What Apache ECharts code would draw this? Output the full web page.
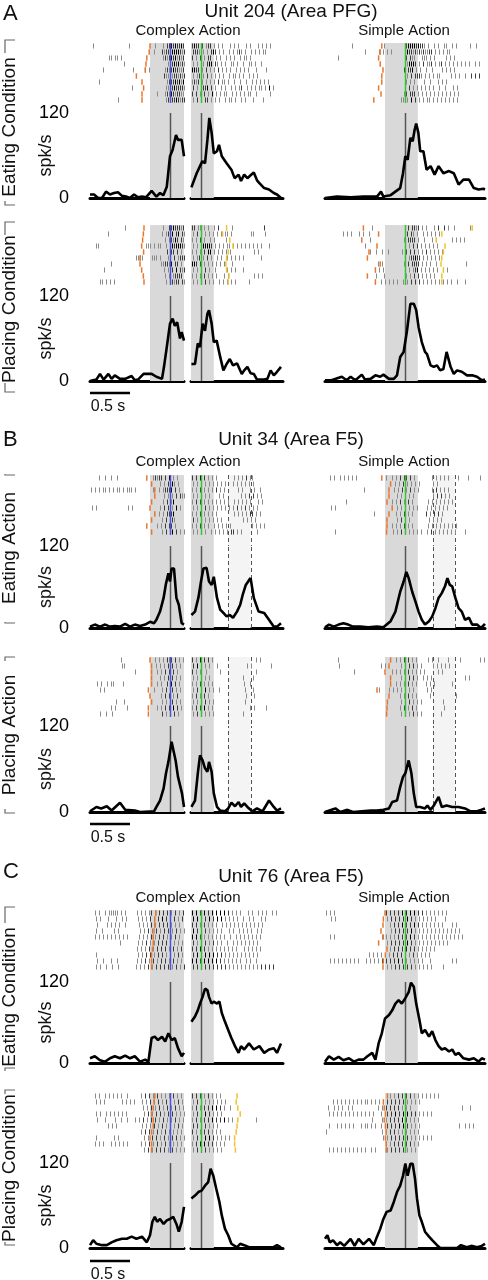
<!DOCTYPE html>
<html><head><meta charset="utf-8">
<script src="https://cdn.jsdelivr.net/npm/echarts@6/dist/echarts.min.js"></script>
<style>html,body{margin:0;padding:0;background:#fff}#c{width:488px;height:1280px}</style>
</head><body><div id="c"></div>
<script>
// ---------------- DATA ----------------
const panelLetters = ['A', 'B', 'C'];
const panelTitles = ['Unit 204 (Area PFG)', 'Unit 34 (Area F5)', 'Unit 76 (Area F5)'];
const segTitles = ['Complex Action', 'Simple Action'];
const rowLabels = ['Eating Condition', 'Placing Condition', 'Eating Action', 'Placing Action', 'Eating Condition', 'Placing Condition'];
const yTicks = [0, 120];
const yUnit = 'spk/s';
const scaleLabel = '0.5 s';
const scaleLen = 0.5;

// PSTH curves [time (s), rate (spk/s)]
const psthA_eat_CL = [[-1,5],[-0.95,5],[-0.9,0],[-0.85,0],[-0.8,9],[-0.75,5],[-0.7,7],[-0.65,8],[-0.6,3],[-0.55,2],[-0.5,0],[-0.45,5],[-0.4,1],[-0.35,2],[-0.3,1],[-0.23,10],[-0.17,2],[-0.125,7],[-0.083,4],[-0.04,16],[0,59],[0.033,68],[0.075,89],[0.1,82],[0.125,80],[0.146,82],[0.175,59]];
const psthA_eat_CR = [[-0.12,15],[-0.054,35],[-0.0125,45],[0.017,52],[0.05,49],[0.08,82],[0.104,113],[0.133,92],[0.16,63],[0.2,66],[0.225,75],[0.26,59],[0.32,49],[0.38,40],[0.42,28],[0.47,33],[0.5,24],[0.54,33],[0.58,28],[0.62,32],[0.66,36],[0.7,25],[0.73,21],[0.79,14],[0.85,12],[0.91,7],[0.95,5],[1.0,0]];
const psthA_eat_S = [[-1,0],[-0.85,2],[-0.68,1],[-0.52,2],[-0.35,2],[-0.3,9],[-0.27,2],[-0.18,4],[-0.12,9],[-0.06,14],[-0.025,35],[0.004,59],[0.033,54],[0.067,85],[0.096,80],[0.12,96],[0.14,105],[0.167,92],[0.19,66],[0.23,66],[0.27,40],[0.32,45],[0.37,33],[0.42,45],[0.48,35],[0.55,38],[0.61,35],[0.67,19],[0.73,26],[0.8,26],[0.86,14],[0.92,12],[0.98,13],[1,12]];
const psthA_pl_CL = [[-1,0],[-0.92,2],[-0.875,10],[-0.83,2],[-0.77,10],[-0.73,3],[-0.69,8],[-0.625,3],[-0.56,3],[-0.48,7],[-0.44,1],[-0.4,2],[-0.33,10],[-0.23,10],[-0.17,6],[-0.1,3],[-0.075,20],[-0.04,48],[0,81],[0.033,88],[0.06,78],[0.09,83],[0.125,60],[0.146,69],[0.175,57]];
const psthA_pl_CR = [[-0.12,24],[-0.075,24],[-0.04,53],[-0.0125,48],[0.02,81],[0.05,71],[0.08,95],[0.1,100],[0.133,81],[0.16,55],[0.196,57],[0.24,34],[0.28,15],[0.32,24],[0.36,31],[0.4,22],[0.45,25],[0.51,10],[0.54,15],[0.58,20],[0.62,11],[0.66,10],[0.7,2],[0.79,2],[0.83,3],[0.87,15],[0.91,8],[0.95,13],[1.0,20]];
const psthA_pl_S = [[-1,1],[-0.92,1],[-0.79,6],[-0.73,1],[-0.68,6],[-0.62,1],[-0.54,9],[-0.5,2],[-0.43,3],[-0.37,8],[-0.31,6],[-0.27,9],[-0.2,3],[-0.14,3],[-0.1,8],[-0.06,34],[-0.017,41],[0.025,71],[0.067,109],[0.11,109],[0.14,100],[0.17,76],[0.21,55],[0.25,41],[0.275,38],[0.32,22],[0.36,20],[0.4,22],[0.44,15],[0.48,17],[0.52,41],[0.57,20],[0.61,10],[0.65,15],[0.71,13],[0.775,8],[0.84,8],[0.9,6],[0.96,1],[1,2]];
const psthB_eat_CL = [[-1,2],[-0.94,5],[-0.875,2],[-0.81,5],[-0.75,2],[-0.69,3],[-0.625,2],[-0.56,6],[-0.5,2],[-0.44,5],[-0.375,3],[-0.31,5],[-0.25,9],[-0.2,7],[-0.17,12],[-0.125,24],[-0.08,44],[-0.05,65],[-0.02,80],[0,68],[0.02,87],[0.05,87],[0.08,44],[0.11,34],[0.146,7],[0.175,5]];
const psthB_eat_CR = [[-0.12,19],[-0.075,24],[-0.033,44],[0,68],[0.03,87],[0.07,88],[0.1,68],[0.133,63],[0.16,75],[0.2,44],[0.24,27],[0.28,22],[0.32,17],[0.36,19],[0.4,15],[0.45,24],[0.49,34],[0.52,48],[0.56,63],[0.6,70],[0.62,73],[0.66,44],[0.72,24],[0.79,22],[0.85,12],[0.91,2],[0.95,2],[1.0,7]];
const psthB_eat_S = [[-1,1],[-0.95,5],[-0.89,2],[-0.83,5],[-0.77,7],[-0.71,5],[-0.65,2],[-0.56,2],[-0.46,1],[-0.35,2],[-0.27,1],[-0.18,10],[-0.12,24],[-0.06,53],[-0.017,68],[0.017,82],[0.046,73],[0.09,53],[0.13,39],[0.17,24],[0.21,12],[0.25,5],[0.3,10],[0.34,17],[0.38,29],[0.42,44],[0.46,51],[0.5,61],[0.53,73],[0.56,63],[0.59,61],[0.63,44],[0.67,29],[0.71,24],[0.75,12],[0.8,15],[0.84,5],[0.9,5],[0.95,0],[1,6]];
const psthB_pl_CL = [[-1,1],[-0.92,7],[-0.86,5],[-0.79,8],[-0.73,2],[-0.625,13],[-0.56,3],[-0.44,2],[-0.375,0],[-0.2,1],[-0.17,7],[-0.125,16],[-0.08,33],[-0.05,54],[-0.02,70],[0,68],[0.02,98],[0.04,98],[0.07,72],[0.1,49],[0.125,51],[0.15,26],[0.175,7]];
const psthB_pl_CR = [[-0.12,7],[-0.075,16],[-0.04,54],[-0.0125,79],[0.02,72],[0.05,61],[0.08,56],[0.1,70],[0.133,56],[0.16,26],[0.2,7],[0.24,2],[0.3,1],[0.34,5],[0.38,13],[0.425,8],[0.47,14],[0.5,7],[0.54,12],[0.58,7],[0.64,1],[0.7,5],[0.77,1],[0.85,16],[0.91,7],[0.95,2],[1.0,5]];
const psthB_pl_S = [[-1,0],[-0.87,5],[-0.81,0],[-0.72,3],[-0.65,0],[-0.43,2],[-0.35,2],[-0.27,3],[-0.2,5],[-0.16,14],[-0.1,16],[-0.06,35],[-0.025,49],[0.004,54],[0.046,72],[0.08,54],[0.11,26],[0.14,7],[0.19,7],[0.25,5],[0.28,9],[0.32,3],[0.36,9],[0.42,21],[0.46,7],[0.52,9],[0.59,7],[0.67,7],[0.75,5],[0.82,1],[0.9,1],[0.95,3],[1,5]];
const psthC_eat_CL = [[-1,7],[-0.94,10],[-0.875,4],[-0.81,2],[-0.75,7],[-0.69,10],[-0.625,7],[-0.56,11],[-0.5,7],[-0.44,10],[-0.375,2],[-0.31,5],[-0.27,2],[-0.23,37],[-0.19,39],[-0.15,34],[-0.1,39],[-0.06,32],[-0.02,44],[0.02,34],[0.06,37],[0.1,22],[0.146,10],[0.175,15]];
const psthC_eat_CR = [[-0.12,61],[-0.075,69],[-0.04,78],[-0.0125,88],[0.02,98],[0.05,110],[0.08,108],[0.1,98],[0.133,88],[0.16,91],[0.2,88],[0.23,91],[0.26,74],[0.3,61],[0.34,49],[0.38,37],[0.425,25],[0.47,15],[0.5,25],[0.54,20],[0.6,29],[0.66,20],[0.73,25],[0.79,15],[0.85,20],[0.91,22],[0.95,15],[1.0,29]];
const psthC_eat_S = [[-1,2],[-0.95,10],[-0.89,5],[-0.83,9],[-0.77,4],[-0.7,7],[-0.64,2],[-0.58,5],[-0.52,5],[-0.47,10],[-0.41,15],[-0.37,5],[-0.33,29],[-0.29,44],[-0.25,66],[-0.2,71],[-0.16,78],[-0.12,88],[-0.08,93],[-0.04,88],[0.004,96],[0.046,105],[0.075,119],[0.11,113],[0.14,88],[0.18,64],[0.21,44],[0.25,49],[0.3,39],[0.34,47],[0.38,34],[0.42,25],[0.46,20],[0.5,22],[0.55,17],[0.59,20],[0.63,12],[0.67,15],[0.73,7],[0.8,5],[0.86,7],[0.92,2],[0.96,7],[1,5]];
const psthC_pl_CL = [[-1,4],[-0.96,11],[-0.92,6],[-0.85,4],[-0.79,4],[-0.73,8],[-0.67,11],[-0.6,13],[-0.54,13],[-0.48,16],[-0.42,13],[-0.35,16],[-0.29,8],[-0.25,18],[-0.22,37],[-0.19,44],[-0.16,37],[-0.125,41],[-0.08,34],[-0.04,39],[0,41],[0.04,44],[0.08,34],[0.11,23],[0.146,37],[0.175,58]];
const psthC_pl_CR = [[-0.12,70],[-0.075,74],[-0.033,79],[0.008,81],[0.05,88],[0.09,93],[0.12,112],[0.154,102],[0.19,84],[0.23,65],[0.26,46],[0.3,27],[0.34,18],[0.38,6],[0.45,1],[0.49,6],[0.54,4],[0.6,1],[0.7,1],[0.8,1],[0.9,1],[0.95,4],[1.0,1]];
const psthC_pl_S = [[-1,13],[-0.97,18],[-0.94,8],[-0.9,11],[-0.85,4],[-0.81,8],[-0.76,3],[-0.68,13],[-0.63,3],[-0.58,13],[-0.52,5],[-0.45,13],[-0.39,4],[-0.35,16],[-0.31,27],[-0.27,41],[-0.23,51],[-0.18,53],[-0.14,65],[-0.1,79],[-0.06,88],[-0.025,102],[0.004,119],[0.033,102],[0.067,119],[0.096,119],[0.125,98],[0.15,70],[0.18,46],[0.21,37],[0.25,23],[0.3,16],[0.34,11],[0.4,4],[0.44,0],[0.65,0],[0.7,4],[0.77,1],[0.84,3],[0.9,1],[0.96,3],[1,6]];

// Rasters: one string per trial, one character per 25 ms bin from the segment start
// ('.' no spike, 1 light, 2 dark, 3 black; '|' only groups 10 bins)
const rasA_eat_CL = [
".1........|.........1|..........|..1...1.22|3232232",
"..........|..........|..........|.1...21222|3333212",
".........1|1.11.1....|..........|......1212|3231212",
"..........|......1...|..........|........12|2323121",
"......1...|..........|.1.....1.1|.......121|2322112",
"..........|..........|..........|......2112|1221212",
"....1.....|..........|..........|........12|2232313",
"..........|..........|1.........|.......112|2322221",
"..........|..........|..........|...1...121|3212211",
"..........|...1......|..........|.......122|2232122"];
const rasA_eat_CR = [
"2322.2.122|.1.1.1...1|.1.1...1.1|...1.1.1.1|......",
"2221.1.1.2|32.1.1..1.|1.121.1..1|.1.1.11...|......",
"2.1.2.1.22|..1.1..1.1|.1..1.11.1|..........|......",
"1.1..1.233|.21.1.1..1|1.1..1..11|.1..1.....|......",
"3322.1.2.1|.1.2.1.1.1|..1.1.1.1.|..1....1..|......",
"1.12.1.2.1|.1.1.1..1.|11.1.1..1.|1.1.......|......",
"1212.1.1.1|.1.2.11.1.|.1..1..1..|1.1.1.1.1.|......",
"2.1.2223.2|.1..1.1..1|.1.12..1.1|.1.11.1.3.|1.....",
"2.2.1.2.1.|3.1.1.11..|1.1.1.1.11|..1......1|......",
"1.2.1.22.1|.1.1..1.11|.1..1.1...|1....1....|......"];
const rasA_eat_S = [
"..........|...1......|.........1|..........|2333323221|.1..1.1..1|1..1.1....|..1..1....",
"..........|.........1|......1.1.|1.1.......|3221212121|122.1.1.1.|11........|..........",
"......1...|..........|..........|..........|2.211...11|1.1.1.....|1.1.1.....|..........",
"..........|..........|..........|..........|13332.1.2.|112.1.12.1|.1.1.1.1.1|.1..1.1...",
"..........|..........|..........|.........2|.223.1.1..|1..1....1.|1.1.1.....|..........",
"..........|..........|..........|..........|1.2.2221.1|.1.1.11...|..1.1.1..1|..2.2.2...",
"..........|..........|..........|..........|1.1.1....1|..1...1.1.|1.........|..........",
"..........|..........|..........|.........1|.2.1.1.1.1|.1.1..1..1|...1.1....|..........",
"..........|..........|..........|.........1|2.222.1.1.|1.1.1.1.1.|1.1.1.1...|..........",
"..........|..........|..........|.......11.|1.3.2.1.1.|11.1.1.1.1|.1.1.1....|.........."];
const rasA_pl_CL = [
"..........|.......1..|..........|......1..2|2322212",
"........1.|..........|..........|.....1.122|3.23.21",
"..........|..........|..........|.......1.1|2132.21",
"..11......|..........|.......111|.1.11..1.2|3233321",
"..........|..........|..........|........2.|22.2.1.",
"..........|..........|..1111....|111.1...12|.2.1222",
"..........|1.........|..........|.....11221|3.22.1.",
"......1...|..........|..........|......1.12|2.3.212",
"..........|..........|..........|.......1.1|.12222.",
"....11.1.1|.1........|..........|.......1.1|2122.21"];
const rasA_pl_CR = [
"22.11.1.1.|.1.2...1..|1.........|......2...|......",
"1.2.1.1.1.|1.1.1.11.1|.........1|1.....1...|......",
"1.1.2.1..1|.1.....1..|..........|..........|......",
"1.1.233332|.1.1.1.11.|1.1.1.1.1.|1.1.1...1.|......",
"1.1.1.2.33|.1.1.1.1.1|..........|.1.1......|......",
"1.12.1.2.1|..1.1..1.1|.1.1.1....|....1.....|......",
"332.2.1.1.|1.1.1.1...|1.........|..........|......",
"1.1.2.2.1.|.1.....1.1|.1...1....|..........|......",
"1.1.1.2.1.|1.1...1.1.|..........|.1.1.1....|......",
"1.1.1.2.1.|1..1.1.1.1|.1......1.|..........|......"];
const rasA_pl_S = [
"..........|..........|...1......|..........|.2.2212.1.|1...1.2..2|.1..1.....|..1.......",
"........1.|1.1...1.1.|.1........|..........|2.21.1..1.|1.1.1.1...|..........|..........",
"..........|..........|..1.......|.........1|.2222.1..1|...1.1....|...1.1.1.1|..........",
"..........|.........1|..........|..........|.1.2.2.1.1|.1.1.1....|..........|..........",
"..........|..........|..1..1..1.|.1......1.|2.2.2.1.1.|2.1.1.1.1.|..........|..........",
"..........|..........|..........|.........1|.122322.1.|1.1.1.1...|..........|..........",
"..........|..........|......1.1.|.........1|.2.2222.1.|1.1..1....|..........|1.........",
"..........|..........|....1.1.1.|.........1|.1.123.1.1|.1.1.1..1.|1.........|..........",
"..........|..........|.....1...1|..........|1.1.2.2.1.|1.1.1.....|..........|..........",
"..........|..........|....1..1.1|.1.1.1..1.|1.2.2.2.1.|1.1.1.1.1.|1.1..1...1|.........."];
const rasB_eat_CL = [
"....1..1..|1..1......|..........|.12122.2.3|.1.1...",
"..........|..........|..........|....1.1.21|31.1...",
"1.1.1.11.1|.1.11.1.11|1.1.......|.1..1.1222|3.2.1..",
"..........|..........|..........|......1.12|1.2.211",
"..........|..........|..........|......1.2.|13.....",
"1.1.......|........1.|1.........|....1.2.21|1.3.1..",
"..........|..........|..........|....1.1.22|23.....",
"..........|..........|..........|.....1.2.2|21.....",
"..........|..........|..........|...1.1.2.2|2.1....",
"..........|..........|..........|.....1.2.1|3.2.1.1"];
const rasB_eat_CR = [
"2.2.3.2.1.|1.1.......|.1.1.1.2.1|1.........|......",
"1.1.2.1.1.|1.1.1.1...|1.1.1.1.1.|1.........|......",
"1.1.2.1.1.|1.2.1.1...|...1.1...1|.1..1.....|......",
"1.1.2.1.1.|...1.1....|....1.1.2.|2.1.1.....|......",
"1.2.2.1.1.|1.1.1.1.1.|.1.1.1.1.1|...1.1....|......",
"1.1.2.2.1.|1.1.1.1.1.|1.2.1.2.1.|1.1.......|......",
"1.1.2.1.1.|1.1.......|.1.1.1.1.2|2.1.1.....|......",
"2.1.2.1.1.|1.1.1.....|.....1.1.1|.1........|......",
"1.1.2.1.1.|.1.1.1.1.1|..........|1.1.1.1...|......",
"1.1.2.1..1|.1.1.1.1.2|2.1.1.....|..1.......|......"];
const rasB_eat_S = [
"..1.1..1.1|.1.1.1....|..........|1..1.1.2.2|2.2.1.....|...1.1.1.1|.1....1...|.1.....1..",
"..........|..........|..........|....1.1.2.|1.1.1.1...|...1.1....|..........|..........",
"..........|.........1|..........|....1.1.2.|1.2.1.1...|...1.2.1.1|.1........|..........",
"..........|..........|..........|.....1.1.1|.1.1......|...1.2.2.1|.1........|..........",
"..........|1.........|..........|...1.1.2.1|.2.1......|.1.1.1.1.1|.1.1......|..........",
"..1.1.....|..........|..........|.....1.1.2|.1.1.1....|1.1.1.1.1.|1.........|..........",
"..........|..........|....1.....|.....1.1.2|.1.1......|2.1.2.2.1.|..........|..........",
"..........|..........|..........|.....1.2.1|.1........|.1.1.1.1..|..........|..........",
"..........|..........|..........|...1.1.1.2|.1.1......|.1.1.1.1.1|.1.1.1....|..........",
"....1.....|..........|..........|...1.1.2.1|.1.1.1.1..|1.2.1.1.1.|1.1.1....1|.........."];
const rasB_pl_CL = [
"..........|.....1....|..........|..1.1.1.21|2.2.1.1",
"..........|.....11...|..........|..1.1.1.2.|2.1.1..",
"..........|..........|..1.......|...1.1.2.2|.2.1...",
"..........|..........|..........|....1.1.22|2.1.1..",
"...1.1..1.|11....1...|..........|...1.1..2.|3.2.1..",
"....1.1...|..........|..........|.1...1.2.1|2.1.1..",
"..........|..........|..........|.....1.2.2|.1.2...",
"..........|..1...1...|..........|.....1.1.2|2.1.1..",
"..........|1.1.....1.|..........|...1.1.2.2|.3.2.1.",
"....1..1..|1.........|..........|.....2.1.2|.2.1..."];
const rasB_pl_CR = [
"2.1.3.2.2.|1.........|..........|..1.1.....|......",
"2.3.2.1.1.|..1.......|.......1.1|.........1|......",
"2.1.1..1..|....1.....|..........|..1.......|......",
"1.1.2.1.1.|..........|.....1....|1.........|......",
"1.1.2.1.1.|1.........|......1..1|..........|......",
"1.2.1.3.1.|1..1......|......1...|1.........|......",
"1.2.1.2.1.|..........|.......1..|.1........|......",
"1.1.1.2.1.|1.........|......1...|..........|......",
"1.2.2.3.1.|1.........|.........1|.1.....1..|......",
"1.2.2.1.1.|1.........|.....1....|..........|......"];
const rasB_pl_S = [
"......1...|..........|..........|.....1.1.2|.2.1.1....|.1.1..1...|.1.....1..|.......1.1",
"......1...|..........|.......1.1|.......1.1|.2.2.1.1..|...1.1.1.1|.1........|..........",
"..........|....1.....|..........|...1.1.1.1|.2.1.1.1.1|......1.1.|..........|..........",
"..........|..........|..........|.......1.1|.2.2.1..1.|1.1.......|.........1|.1........",
"..........|..........|..........|..1..1.1.1|.2.1.1....|1.1.1.....|...1......|..........",
"..........|..........|......1...|.1.1.1.1.2|.1.1......|1.1.......|..........|..........",
"..........|..........|..........|.......1.1|.2.1.1....|..1.......|.....1....|..........",
"..........|..........|..........|.......1.1|.2.1.1.1..|........1.|..........|..........",
"..........|..........|..........|.......1.2|.1.2.1....|.........1|..........|..........",
"..........|..........|..........|.......1.1|.1.2.1.1..|.......1..|..........|.........."];
const rasC_eat_CL = [
"..1.1..1.1|1111.1.1..|...1.1.1.1|2.1.2.2.2.|1.2.1.2",
"..1.1...1.|..1..1.1..|...1.1.1.2|.1.2.3.2.1|.2.1.2.",
"...1....1.|1.1.1..1..|....1.1.1.|2.1.2.2.2.|1.1.1..",
"..1..1....|.1.1......|....1.1.2.|1.2.1.2.2.|1.2.1.1",
"..1.1.1.1.|1.1.1.1.1.|....1.1.1.|2.1.2.2.1.|1.2.1..",
"..........|....1.....|...1.1.2.1|.1.2.2.2.1|.1.1.1.",
"..........|..........|...1.1.1.2|.1.2.2.2.1|.2.1.2.",
"..1.......|..........|...1.1.2.2|.1.2.2.1.2|.1.2.1.",
"...1..1...|1..1......|...1.1.2.1|.2.1.2.2.1|.2.1.1.",
"..1.1..1..|1..1......|..1.1.1.2.|1.2.2.2.2.|1.2.1.2"];
const rasC_eat_CR = [
"3.3.2.3.2.|3.3.3.3.2.|1.1.1...1.|1..1.1.1..|1.1...",
"3.3.3.2.3.|2.3.3.1.1.|1.1..1..1.|1...1.1...|......",
"2.2.1.2.1.|1.1..1.1.1|.1.1.1.1.1|.1.1.1....|......",
"3.2.3.2.1.|1.1.1...1.|1..1.1.1.1|..1.1.....|......",
"3.3.2.1.1.|1.1.1.1..1|..1.1.1.1.|1.1.1.....|......",
"2.1.2.2.1.|2.1.1..1..|1.1.1.1.1.|1.1.......|......",
"2.2.3.2.1.|1.1.1.1.1.|1.1...1.1.|1.1.1.....|......",
"2.3.2.3.3.|3.2.2.1.1.|1.1.1.1.1.|1.1.......|......",
"3.3.2.3.3.|3.3.2.1.1.|1.1.1..1.1|..1.......|......",
"2.2.2.2.2.|2.2.2.2.1.|1.1.1.1.1.|1.1.2.2.2.|2....."];
const rasC_eat_S = [
"1.1.1.....|..........|..........|2.2.2.2.3.|3.3.3.2.2.|1.1.1.1.1.|1.........|..........",
"..1.1.....|..........|..........|1.2.2.2.2.|3.2.1.1.1.|1.1.1....1|..........|..........",
"..........|..........|..........|..1.2.2.3.|2.2.3.2.1.|1.1.1.1.1.|...1.1....|..........",
"..........|..........|..........|..1.2.2.2.|2.3.1.1.1.|1.1.1.1.1.|1.1.1.1...|..........",
"..1.1.....|..........|........1.|1.1.1.2.2.|2.3.2.1.1.|1.1.1.1.1.|1.1.1.1.1.|..........",
"..........|..........|..........|1.2.2.2.2.|3.2.1.1.1.|1.1.1.1.1.|1.........|..........",
"..........|..........|..........|..1.2.2.2.|3.2.2.1.1.|1.1.1.....|..........|..........",
"..........|..........|.1.1.1.1..|.1.2.2.2.2|.1.2.1.1.1|.1........|..........|..........",
"..1.1.1.1.|1.1.1.1...|1.1.1.1.2.|2.2.2.3.2.|1.1.1.1.1.|..1.......|...1.1....|..........",
"..........|..........|..........|1.1.2.2.2.|2.2.1.1.1.|1.1.....1.|..........|.........."];
const rasC_pl_CL = [
"..1.1..1.1|.1.1.1..1.|.....1.2.2|.1.2.1.1.1|.2.1.1.",
"..1.1.1...|.....1.1.1|.1...1.1.2|.1.2.1.2.1|.1.2.1.",
"..........|..........|......1.1.|2.1.2.1.2.|1.2.1.1",
"..1.1..1.1|.1.1.1.1..|......1.2.|1.2.2.1.2.|2.1.1.1",
"...1...1..|..1..1..1.|..1.1.2.1.|2.2.1.2.1.|1.2.1.1",
"........1.|1.1.......|.....1.1.1|.2.1.2.1.2|.1.2.1.",
"..........|..........|.....1.2.2|.1.2.1.2.1|.1.1.1.",
"..1.......|.1.1......|......1.1.|2.2.1.2.1.|2.2.1.1",
"..1.1.1...|1.1.1.1.1.|.....1.1.2|.1.2.1.2.1|.1.1.1.",
"..........|..........|......1.2.|1.2.2.2.1.|2.1.1.1"];
const rasC_pl_CR = [
"2.2.2.1.2.|1.1.1.....|..........|..........|......",
"1.2.2.1.1.|1.1.1.1...|..........|..........|......",
"1.2.1.2.2.|3.3.2.1..1|..........|..........|......",
"1.2.3.3.2.|1.1.1.....|..........|..........|......",
"1.2.1.2.2.|3.2.2.3.1.|1.........|..1.......|......",
"2.2.2.2.1.|1.1.......|..........|..........|......",
"2.1.1.2.2.|1.1.1.....|..........|..........|......",
"1.2.2.3.3.|2.1.1.1.1.|..........|..........|......",
"1.2.3.3.2.|2.1.1.1...|..........|..........|......",
"1.2.2.2.1.|1.1.1.....|..........|..........|......"];
const rasC_pl_S = [
"..........|..........|..........|..1.1.2.2.|2.2.1.1.1.|1.1.1.1...|..........|..........",
"...1.1.1.1|.1.1.1.1.1|1.1.1.1.1.|2.2.2.2.2.|1.1.1.1...|..........|..........|..........",
".1..1.1.1.|.1.1......|......1.1.|2.2.2.2.1.|1.1.......|..........|........1.|..1.......",
".1.1.1.1.1|.1.1.1.1.1|.1.1...1.1|2.2.3.2.3.|3.2.2.1.1.|1.1.......|..........|..........",
"..........|..........|...1....1.|1.2.2.2.3.|2.1.1.1...|..........|..........|..........",
".1...1.1.1|.1.1...1.1|1.1.1..1.1|2.2.2.3.3.|2.1.1.1...|..........|......1..1|.1.1......",
"1.........|..........|........1.|1.2.2.1.1.|1.1.1.1...|..........|..........|..........",
"..........|..........|........1.|1.2.2.2.2.|2.1.1.1.1.|1.1.......|..........|..........",
"..........|..........|..........|1.1.2.2.2.|2.2.1.1...|..........|..........|..........",
".1.1.1.1.1|.1.1.1.1.1|..1.1.....|1.2.2.2.2.|1.1.1.....|..........|..........|.........."];

// Behavioural event markers per trial (s)
const orgA_eat_CL = [-0.25,-0.26,-0.29,-0.3,-0.31,-0.42,-0.35,-0.33,-0.35,-0.35];
const orgA_eat_S  = [-0.29,-0.31,-0.33,-0.31,-0.275,-0.29,-0.29,-0.33,-0.3,-0.39];
const orgA_pl_CL  = [-0.325,-0.333,-0.342,-0.354,-0.33,-0.375,-0.375,-0.354,-0.333,-0.325];
const orgA_pl_S   = [-0.52,-0.33,-0.54,-0.35,-0.45,-0.47,-0.31,-0.37,-0.47,-0.37];
const yelA_pl_CR  = [0.32,0.27,0.36,0.4,0.34,0.32,0.31,0.32,0.35,0.34];
const yelA_pl_S   = [0.84,0.46,0.39,0.5,0.48,0.46,0.45,0.48,0.46,0.46];
const orgB_eat_CL = [-0.29,-0.23,-0.19,-0.19,-0.23,-0.25,-0.19,-0.23,-0.29,-0.23];
const orgB_eat_S  = [-0.29,-0.18,-0.2,-0.2,-0.225,-0.16,-0.2,-0.225,-0.225,-0.23];
const orgB_pl_CL  = [-0.25,-0.23,-0.23,-0.23,-0.23,-0.27,-0.25,-0.23,-0.27,-0.27];
const orgB_pl_S   = [-0.18,-0.2,-0.25,-0.18,-0.18,-0.35,-0.2,-0.22,-0.225,-0.23];
const orgC_eat_CL = [-0.175,-0.19,-0.19,-0.2,-0.21,-0.21,-0.22,-0.23,-0.23,-0.23];
const orgC_eat_S  = [-0.25,-0.27,-0.275,-0.3,-0.27,-0.33,-0.225,-0.245,-0.27,-0.275];
const orgC_pl_CL  = [-0.19,-0.2,-0.21,-0.23,-0.21,-0.21,-0.23,-0.25,-0.23,-0.23];
const orgC_pl_S   = [-0.22,-0.27,-0.26,-0.245,-0.26,-0.245,-0.235,-0.245,-0.235,-0.235];
const yelC_pl_CR  = [0.45,0.44,0.46,0.49,0.46,0.45,0.44,0.42,0.42,0.43];

// Epoch windows (s)
const shadeCL = [-0.25, 0.175];
const shadeCR = [-0.125, 0.16];
const shadeS  = [-0.25, 0.16];
const epochB_CR = [0.34, 0.62];
const epochB_S  = [0.35, 0.625];

// ---------------- LAYOUT ----------------
const FONT = "'Liberation Sans', Arial, Helvetica, sans-serif";
const SEGS = {
  CL: {left: 90, width: 94, min: -1, max: 0.175, shade: shadeCL, alignColor: '#5050d8'},
  CR: {left: 191, width: 92, min: -0.125, max: 1.025, shade: shadeCR, alignColor: '#33c433'},
  S:  {left: 325, width: 160, min: -1, max: 1, shade: shadeS, alignColor: '#33c433'}
};
const ROWS = [
  {rTop: 43, pTop: 113, base: 198},
  {rTop: 225, pTop: 296, base: 381, scale: 393},
  {rTop: 475, pTop: 546, base: 628, epoch: true},
  {rTop: 657, pTop: 726, base: 812, epoch: true, scale: 824},
  {rTop: 910, pTop: 982, base: 1063},
  {rTop: 1093, pTop: 1163, base: 1248, scale: 1261}
];
const KEYS = ['A_eat', 'A_pl', 'B_eat', 'B_pl', 'C_eat', 'C_pl'];
const D = {
  psth: {A_eat:{CL:psthA_eat_CL,CR:psthA_eat_CR,S:psthA_eat_S}, A_pl:{CL:psthA_pl_CL,CR:psthA_pl_CR,S:psthA_pl_S},
         B_eat:{CL:psthB_eat_CL,CR:psthB_eat_CR,S:psthB_eat_S}, B_pl:{CL:psthB_pl_CL,CR:psthB_pl_CR,S:psthB_pl_S},
         C_eat:{CL:psthC_eat_CL,CR:psthC_eat_CR,S:psthC_eat_S}, C_pl:{CL:psthC_pl_CL,CR:psthC_pl_CR,S:psthC_pl_S}},
  ras:  {A_eat:{CL:rasA_eat_CL,CR:rasA_eat_CR,S:rasA_eat_S}, A_pl:{CL:rasA_pl_CL,CR:rasA_pl_CR,S:rasA_pl_S},
         B_eat:{CL:rasB_eat_CL,CR:rasB_eat_CR,S:rasB_eat_S}, B_pl:{CL:rasB_pl_CL,CR:rasB_pl_CR,S:rasB_pl_S},
         C_eat:{CL:rasC_eat_CL,CR:rasC_eat_CR,S:rasC_eat_S}, C_pl:{CL:rasC_pl_CL,CR:rasC_pl_CR,S:rasC_pl_S}},
  org:  {A_eat:{CL:orgA_eat_CL,S:orgA_eat_S}, A_pl:{CL:orgA_pl_CL,S:orgA_pl_S}, B_eat:{CL:orgB_eat_CL,S:orgB_eat_S},
         B_pl:{CL:orgB_pl_CL,S:orgB_pl_S}, C_eat:{CL:orgC_eat_CL,S:orgC_eat_S}, C_pl:{CL:orgC_pl_CL,S:orgC_pl_S}},
  yel:  {A_pl:{CR:yelA_pl_CR,S:yelA_pl_S}, C_pl:{CR:yelC_pl_CR}},
  epoch:{CR: epochB_CR, S: epochB_S}
};
const BIN = 0.025, ROWPX = 6;
const LEVEL_COL = ['', '#8a8a8a', '#3c3c3c', '#000000'];

function vline(gi, items, color, width, dash, z) {
  return {type: 'custom', xAxisIndex: gi, yAxisIndex: gi, z: z, silent: true, data: items,
    renderItem: function (p, api) {
      const a = api.coord([api.value(0), api.value(1)]), b = api.coord([api.value(0), api.value(2)]);
      const x = Math.round(a[0]) + 0.5;
      return {type: 'line', shape: {x1: x, y1: a[1], x2: x, y2: b[1]},
        style: {stroke: color, lineWidth: width, lineDash: dash || null}};
    }};
}
function hline(gi, items, color, width, z) {
  return {type: 'custom', xAxisIndex: gi, yAxisIndex: gi, z: z, silent: true, data: items,
    renderItem: function (p, api) {
      const a = api.coord([api.value(0), api.value(2)]), b = api.coord([api.value(1), api.value(2)]);
      return {type: 'line', shape: {x1: a[0], y1: a[1], x2: b[0], y2: b[1]}, style: {stroke: color, lineWidth: width}};
    }};
}
function rect(gi, items, color, z) {
  return {type: 'custom', xAxisIndex: gi, yAxisIndex: gi, z: z, silent: true, data: items,
    renderItem: function (p, api) {
      const a = api.coord([api.value(0), api.value(2)]), b = api.coord([api.value(1), api.value(3)]);
      return {type: 'rect', shape: {x: Math.min(a[0], b[0]), y: Math.min(a[1], b[1]),
        width: Math.abs(b[0] - a[0]), height: Math.abs(b[1] - a[1])}, style: {fill: color}};
    }};
}
function ticks(gi, items, z) {
  return {type: 'custom', xAxisIndex: gi, yAxisIndex: gi, z: z, silent: true, data: items,
    renderItem: function (p, api) {
      const a = api.coord([api.value(0), api.value(1) + 0.08]), b = api.coord([api.value(0), api.value(1) + 0.92]);
      const x = Math.round(a[0]) + 0.5;
      return {type: 'line', shape: {x1: x, y1: a[1], x2: x, y2: b[1]}, style: {stroke: LEVEL_COL[api.value(2)], lineWidth: 1}};
    }};
}
function markers(gi, items, color, z) {
  return {type: 'custom', xAxisIndex: gi, yAxisIndex: gi, z: z, silent: true, data: items,
    renderItem: function (p, api) {
      const a = api.coord([api.value(0), api.value(1) + 0.05]), b = api.coord([api.value(0), api.value(1) + 0.95]);
      return {type: 'line', shape: {x1: a[0], y1: a[1], x2: b[0], y2: b[1]}, style: {stroke: color, lineWidth: 1.5}};
    }};
}

const grid = [], xAxis = [], yAxis = [], series = [];
ROWS.forEach(function (row, ri) {
  const key = KEYS[ri];
  ['CL', 'CR', 'S'].forEach(function (sk) {
    const seg = SEGS[sk];
    const rH = row.pTop - row.rTop, rMax = rH / ROWPX;
    const rg = grid.length;
    grid.push({left: seg.left, top: row.rTop, width: seg.width, height: rH});
    xAxis.push({gridIndex: rg, type: 'value', min: seg.min, max: seg.max, show: false});
    yAxis.push({gridIndex: rg, type: 'value', min: 0, max: rMax, inverse: true, show: false});
    const pg = grid.length;
    grid.push({left: seg.left, top: row.pTop, width: seg.width, height: row.base - row.pTop});
    xAxis.push({gridIndex: pg, type: 'value', min: seg.min, max: seg.max,
      axisLine: {show: true, onZero: false, lineStyle: {color: '#000', width: 3}},
      axisTick: {show: false}, axisLabel: {show: false}, splitLine: {show: false}});
    if (sk === 'CL') {
      yAxis.push({gridIndex: pg, type: 'value', min: yTicks[0], max: yTicks[1], interval: 120, offset: 18,
        axisLine: {show: true, lineStyle: {color: '#000', width: 2.5}},
        axisTick: {show: true, length: 7, lineStyle: {color: '#000', width: 2.5}},
        axisLabel: {show: true, margin: 3, color: '#000', fontSize: 18, fontFamily: FONT},
        splitLine: {show: false}});
    } else {
      yAxis.push({gridIndex: pg, type: 'value', min: 0, max: 120, show: false});
    }
    // shading
    series.push(rect(rg, [[seg.shade[0], seg.shade[1], 0, rMax]], '#d9d9d9', 1));
    series.push(rect(pg, [[seg.shade[0], seg.shade[1], 0, 120]], '#d9d9d9', 1));
    if (row.epoch && D.epoch[sk]) {
      const e = D.epoch[sk];
      series.push(rect(rg, [[e[0], e[1], 0, rMax]], '#f4f4f4', 1));
      series.push(rect(pg, [[e[0], e[1], 0, 120]], '#f4f4f4', 1));
      series.push(vline(rg, [[e[0], 0, rMax], [e[1], 0, rMax]], '#555', 1, [4, 3], 2));
      series.push(vline(pg, [[e[0], 0, 120], [e[1], 0, 120]], '#555', 1, [4, 3], 2));
    }
    // raster ticks (odd trials drawn half a bin later so neighbouring rows interleave)
    const tk = [];
    D.ras[key][sk].forEach(function (s, tr) {
      const str = s.replace(/\|/g, '');
      for (let b = 0; b < str.length; b++) {
        const c = str[b];
        if (c >= '1' && c <= '3') tk.push([seg.min + (b + 0.5 + (tr % 2) * 0.5) * BIN, tr, +c]);
      }
    });
    series.push(ticks(rg, tk, 3));
    // alignment lines
    series.push(vline(rg, [[0, 0, 10]], seg.alignColor, 1.5, null, 4));
    series.push(vline(pg, [[0, 0, 120]], '#555', 1.5, null, 4));
    // event markers
    if (D.org[key] && D.org[key][sk]) series.push(markers(rg, D.org[key][sk].map(function (t, i) { return [t, i]; }), '#e8772e', 5));
    if (D.yel[key] && D.yel[key][sk]) series.push(markers(rg, D.yel[key][sk].map(function (t, i) { return [t, i]; }), '#f2c230', 5));
    // PSTH
    series.push({type: 'line', xAxisIndex: pg, yAxisIndex: pg, data: D.psth[key][sk], showSymbol: false,
      symbol: 'none', silent: true, z: 6, lineStyle: {color: '#000', width: 2.6}, clip: false});
    // scale bar
    if (sk === 'CL' && row.scale) {
      const yv = -(row.scale - row.base) * 120 / (row.base - row.pTop);
      series.push(hline(pg, [[seg.min, seg.min + scaleLen, yv]], '#000', 2.5, 6));
    }
  });
});

// text & brackets
const graphic = [];
function txt(x, y, s, size, align, rot) {
  graphic.push({type: 'text', x: x, y: y, rotation: rot || 0, silent: true,
    style: {text: s, fill: '#111', font: size + 'px ' + FONT, textAlign: align || 'center', textVerticalAlign: 'middle'}});
}
const panelY = [{letter: 14, title: 12, sub: 31}, {letter: 440, title: 440, sub: 462}, {letter: 872, title: 877, sub: 898}];
panelY.forEach(function (p, i) {
  txt(3, p.letter, panelLetters[i], 22, 'left');
  txt(291, p.title, panelTitles[i], 19);
  txt(188, p.sub, segTitles[0], 15);
  txt(404, p.sub, segTitles[1], 15);
});
const brackets = [[40, 205, 127], [222, 392, 309], [475, 623, 548], [657, 813, 735], [907, 1068, 997], [1090, 1245, 1168]];
brackets.forEach(function (b, i) {
  const row = ROWS[i];
  txt(10, b[2], rowLabels[i], 19, 'center', Math.PI / 2);
  txt(46, (row.pTop + row.base) / 2, yUnit, 18, 'center', Math.PI / 2);
  const half = 70;
  const ls = {stroke: '#666', lineWidth: 1.2};
  graphic.push({type: 'polyline', silent: true, shape: {points: [[15, b[0]], [5, b[0]], [5, b[2] - half - 4]]}, style: ls});
  graphic.push({type: 'polyline', silent: true, shape: {points: [[5, b[2] + half + 4], [5, b[1]], [15, b[1]]]}, style: ls});
  if (row.scale) txt(108, row.scale + 14, scaleLabel, 16);
});

const chart = echarts.init(document.getElementById('c'), null, {renderer: 'canvas'});
chart.setOption({animation: false, backgroundColor: '#fff', grid: grid, xAxis: xAxis, yAxis: yAxis, series: series, graphic: graphic});
</script></body></html>
